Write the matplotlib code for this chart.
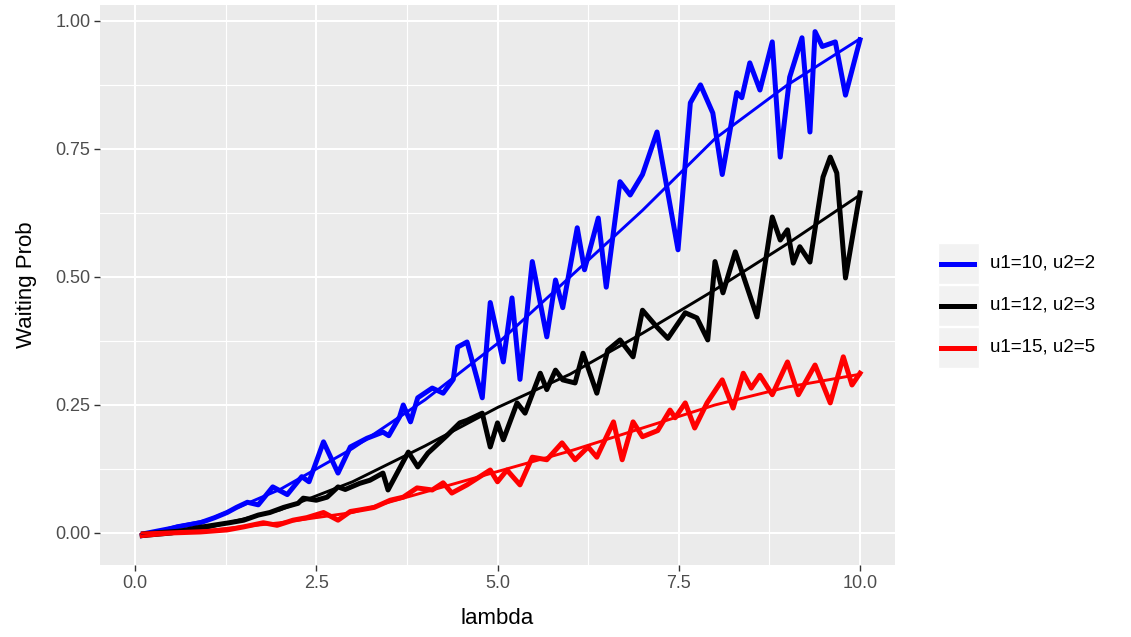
import matplotlib
matplotlib.use("Agg")
import matplotlib.pyplot as plt
from matplotlib.patches import Rectangle
from matplotlib.lines import Line2D
from matplotlib.ticker import MultipleLocator

plt.rcParams["font.family"] = ["Liberation Sans", "DejaVu Sans"]

# noisy simulated waiting probabilities (vertices)
blue_x = [0.1, 0.3, 0.58, 0.9, 1.1, 1.27, 1.4, 1.55, 1.7, 1.9, 2.1, 2.3, 2.4, 2.6, 2.8,
          2.97, 3.2, 3.42, 3.5, 3.65, 3.7, 3.8, 3.9, 4.1, 4.25, 4.39, 4.45, 4.58, 4.79,
          4.9, 5.08, 5.2, 5.31, 5.48, 5.68, 5.8, 5.9, 6.1, 6.2, 6.39, 6.5, 6.69, 6.83,
          7.0, 7.2, 7.49, 7.66, 7.8, 7.97, 8.1, 8.3, 8.37, 8.48, 8.62, 8.79, 8.9, 9.03,
          9.2, 9.31, 9.38, 9.48, 9.66, 9.8, 10.0]
blue_y = [-0.005, 0.0, 0.012, 0.02, 0.03, 0.04, 0.05, 0.06, 0.055, 0.09, 0.075, 0.11,
          0.10, 0.178, 0.117, 0.168, 0.185, 0.197, 0.19, 0.227, 0.25, 0.217, 0.264, 0.283,
          0.273, 0.30, 0.363, 0.373, 0.264, 0.45, 0.334, 0.459, 0.30, 0.53, 0.383, 0.494,
          0.44, 0.596, 0.514, 0.615, 0.48, 0.686, 0.66, 0.70, 0.783, 0.553, 0.84, 0.875,
          0.82, 0.70, 0.86, 0.85, 0.918, 0.865, 0.959, 0.734, 0.89, 0.967, 0.783, 0.979,
          0.95, 0.959, 0.855, 0.963]

black_x = [0.1, 0.5, 0.85, 1.3, 1.5, 1.7, 1.86, 2.05, 2.25, 2.32, 2.5, 2.65, 2.8, 2.9,
           3.1, 3.24, 3.42, 3.49, 3.77, 3.9, 4.04, 4.3, 4.48, 4.58, 4.79, 4.9, 5.0, 5.08,
           5.27, 5.38, 5.59, 5.68, 5.8, 5.9, 6.07, 6.18, 6.37, 6.52, 6.69, 6.87, 7.0, 7.2,
           7.35, 7.59, 7.75, 7.9, 8.0, 8.11, 8.28, 8.58, 8.79, 8.9, 9.0, 9.08, 9.17, 9.31,
           9.49, 9.59, 9.68, 9.8, 10.0]
black_y = [-0.005, 0.0, 0.01, 0.02, 0.025, 0.035, 0.04, 0.05, 0.058, 0.068, 0.064, 0.07,
           0.09, 0.085, 0.097, 0.103, 0.117, 0.084, 0.158, 0.129, 0.156, 0.19, 0.215,
           0.22, 0.234, 0.168, 0.215, 0.182, 0.254, 0.234, 0.312, 0.28, 0.318, 0.299,
           0.293, 0.351, 0.273, 0.357, 0.377, 0.344, 0.435, 0.402, 0.38, 0.43, 0.42,
           0.377, 0.53, 0.469, 0.549, 0.422, 0.617, 0.572, 0.592, 0.527, 0.559, 0.529,
           0.695, 0.734, 0.703, 0.498, 0.664]

red_x = [0.1, 0.48, 0.9, 1.27, 1.5, 1.77, 1.96, 2.18, 2.37, 2.6, 2.8, 2.97, 3.1, 3.3,
         3.52, 3.7, 3.89, 4.1, 4.25, 4.37, 4.58, 4.9, 5.0, 5.13, 5.31, 5.48, 5.68, 5.89,
         6.07, 6.25, 6.37, 6.6, 6.72, 6.87, 7.0, 7.21, 7.38, 7.45, 7.59, 7.72, 7.89, 8.1,
         8.25, 8.39, 8.5, 8.62, 8.79, 9.0, 9.15, 9.38, 9.59, 9.77, 9.89, 10.0]
red_y = [-0.005, 0.0, 0.002, 0.006, 0.012, 0.02, 0.015, 0.025, 0.03, 0.04, 0.025, 0.042,
         0.045, 0.05, 0.064, 0.07, 0.088, 0.084, 0.098, 0.078, 0.094, 0.123, 0.1, 0.123,
         0.094, 0.148, 0.143, 0.176, 0.143, 0.168, 0.148, 0.217, 0.143, 0.217, 0.188,
         0.2, 0.24, 0.225, 0.254, 0.205, 0.254, 0.299, 0.244, 0.312, 0.283, 0.308, 0.27,
         0.334, 0.27, 0.328, 0.254, 0.344, 0.289, 0.312]

# smoothed trends
smooth_x = [0.1, 1, 2, 3, 4, 5, 6, 7, 8, 9, 10]
blue_smooth = [0.0, 0.025, 0.085, 0.165, 0.26, 0.37, 0.50, 0.63, 0.77, 0.875, 0.965]
black_smooth = [0.0, 0.01, 0.045, 0.10, 0.17, 0.245, 0.31, 0.39, 0.475, 0.565, 0.66]
red_smooth = [0.0, 0.005, 0.02, 0.04, 0.08, 0.12, 0.16, 0.205, 0.25, 0.285, 0.31]

labels = ["u1=10, u2=2", "u1=12, u2=3", "u1=15, u2=5"]
colors = ["#0000FF", "#000000", "#FF0000"]

W, H = 1131, 637
fig = plt.figure(figsize=(W / 100, H / 100), dpi=100)
ax = fig.add_axes([100 / W, 1 - 565 / H, 795 / W, 560 / H])
ax.set_facecolor("#EBEBEB")

series = [(blue_x, blue_y, blue_smooth), (black_x, black_y, black_smooth),
          (red_x, red_y, red_smooth)]
for (xs, ys, sm), c in zip(series, colors):
    ax.plot(xs, ys, color=c, lw=3.6, solid_joinstyle="round", zorder=3)
    ax.plot(smooth_x, sm, color=c, lw=2.1, zorder=4)

ax.set_xlim(-0.483, 10.483)
ax.set_ylim(-0.0625, 1.031)
ax.xaxis.set_minor_locator(MultipleLocator(1.25))
ax.yaxis.set_minor_locator(MultipleLocator(0.125))
ax.set_xticks([0, 2.5, 5, 7.5, 10])
ax.set_xticklabels(["0.0", "2.5", "5.0", "7.5", "10.0"])
ax.set_yticks([0, 0.25, 0.5, 0.75, 1.0])
ax.set_yticklabels(["0.00", "0.25", "0.50", "0.75", "1.00"])
ax.grid(which="major", color="white", lw=1.5)
ax.grid(which="minor", color="white", lw=0.8)
ax.set_axisbelow(True)
for s in ax.spines.values():
    s.set_visible(False)
ax.tick_params(which="major", length=4, width=1, color="#333333",
               labelcolor="#4D4D4D", labelsize=13, pad=3)
ax.tick_params(which="minor", length=0)
ax.set_xlabel("lambda", fontsize=16, color="black", labelpad=12)
ax.set_ylabel("Waiting Prob", fontsize=16, color="black", labelpad=13)

# ggplot style legend with grey key boxes
box_tops = [243, 285, 327]
for top, c, lab in zip(box_tops, colors, labels):
    fig.patches.append(Rectangle((938 / W, 1 - (top + 41) / H), 41 / W, 41 / H,
                                 transform=fig.transFigure, facecolor="#F2F2F2",
                                 edgecolor="white", lw=1))
    yc = 1 - (top + 20.5) / H
    fig.add_artist(Line2D([941 / W, 974 / W], [yc, yc], color=c, lw=3.6,
                          transform=fig.transFigure))
    fig.text(990 / W, yc, lab, fontsize=13.5, va="center", ha="left", color="black")

fig.savefig("out.png", dpi=100, facecolor="white")
